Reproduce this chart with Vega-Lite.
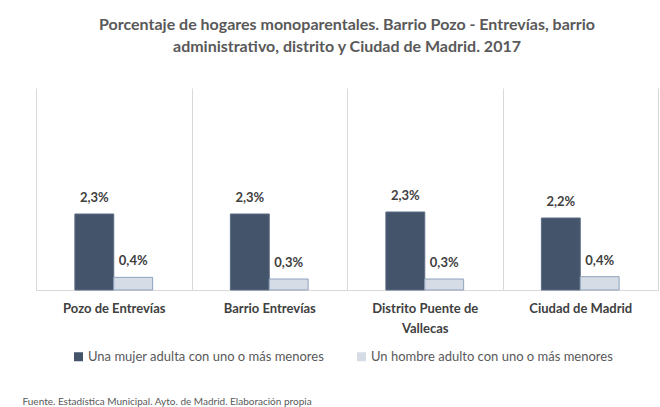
{
  "$schema": "https://vega.github.io/schema/vega-lite/v6.json",
  "autosize": "none",
  "width": 622,
  "height": 202,
  "padding": {"left": 36, "top": 88, "right": 2, "bottom": 117},
  "background": "white",
  "title": {
    "text": ["Porcentaje de hogares monoparentales. Barrio Pozo - Entrevías, barrio", "administrativo, distrito y Ciudad de Madrid. 2017"],
    "anchor": "middle",
    "font": "Lato",
    "fontSize": 16,
    "fontWeight": "bold",
    "color": "#595959",
    "lineHeight": 22,
    "offset": 33
  },
  "data": {
    "values": [
      {"zona": "Pozo de Entrevías", "serie": "Una mujer adulta con uno o más menores", "valor": 0.0228},
      {"zona": "Pozo de Entrevías", "serie": "Un hombre adulto con uno o más menores", "valor": 0.0038},
      {"zona": "Barrio Entrevías", "serie": "Una mujer adulta con uno o más menores", "valor": 0.0228},
      {"zona": "Barrio Entrevías", "serie": "Un hombre adulto con uno o más menores", "valor": 0.0033},
      {"zona": "Distrito Puente de Vallecas", "serie": "Una mujer adulta con uno o más menores", "valor": 0.0234},
      {"zona": "Distrito Puente de Vallecas", "serie": "Un hombre adulto con uno o más menores", "valor": 0.0033},
      {"zona": "Ciudad de Madrid", "serie": "Una mujer adulta con uno o más menores", "valor": 0.0216},
      {"zona": "Ciudad de Madrid", "serie": "Un hombre adulto con uno o más menores", "valor": 0.0040}
    ]
  },
  "encoding": {
    "x": {
      "field": "zona",
      "type": "nominal",
      "sort": ["Pozo de Entrevías", "Barrio Entrevías", "Distrito Puente de Vallecas", "Ciudad de Madrid"],
      "scale": {"paddingInner": 0, "paddingOuter": 0},
      "axis": {
        "title": "Fuente. Estadística Municipal. Ayto. de Madrid. Elaboración propia",
        "titleFont": "Lato",
        "titleFontSize": 10,
        "titleFontWeight": "normal",
        "titleColor": "#595959",
        "titleAnchor": "start",
        "titleAlign": "left",
        "titleBaseline": "alphabetic",
        "titleX": -14,
        "titleY": 114,
        "labelAngle": 0,
        "labelFont": "Lato",
        "labelFontSize": 13,
        "labelFontWeight": "bold",
        "labelColor": "#404040",
        "labelPadding": 12,
        "labelBaseline": "top",
        "labelLineHeight": 20,
        "labelExpr": "datum.label == 'Distrito Puente de Vallecas' ? ['Distrito Puente de', 'Vallecas'] : datum.label",
        "ticks": false,
        "tickBand": "extent",
        "grid": true,
        "gridColor": "#D9D9D9",
        "gridWidth": 1,
        "domainColor": "#D9D9D9",
        "domainWidth": 1
      }
    },
    "xOffset": {
      "field": "serie",
      "type": "nominal",
      "sort": ["Una mujer adulta con uno o más menores", "Un hombre adulto con uno o más menores"],
      "scale": {"paddingInner": 0, "paddingOuter": 1.07}
    },
    "y": {
      "field": "valor",
      "type": "quantitative",
      "scale": {"domain": [0, 0.0606]},
      "axis": null
    }
  },
  "layer": [
    {
      "mark": {"type": "bar", "strokeWidth": 1},
      "encoding": {
        "color": {
          "field": "serie",
          "type": "nominal",
          "sort": ["Una mujer adulta con uno o más menores", "Un hombre adulto con uno o más menores"],
          "scale": {"range": ["#44546A", "#D6DCE5"]},
          "legend": {
            "title": null,
            "orient": "none",
            "direction": "horizontal",
            "legendX": 36,
            "legendY": 262,
            "padding": 0,
            "symbolType": "square",
            "symbolSize": 81,
            "symbolStrokeWidth": 1,
            "labelFont": "Lato",
            "labelFontSize": 13,
            "labelColor": "#595959",
            "labelOffset": 3,
            "columnPadding": 30,
            "labelLimit": 400
          }
        },
        "stroke": {
          "field": "serie",
          "type": "nominal",
          "sort": ["Una mujer adulta con uno o más menores", "Un hombre adulto con uno o más menores"],
          "scale": {"range": ["#5B6B84", "#8FA2BE"]},
          "legend": null
        }
      }
    },
    {
      "mark": {"type": "text", "baseline": "bottom", "dy": -9, "font": "Lato", "fontSize": 13, "fontWeight": "bold", "color": "#404040"},
      "encoding": {
        "text": {"field": "valor", "type": "quantitative", "format": ".1%"}
      }
    }
  ],
  "config": {
    "locale": {
      "number": {"decimal": ",", "thousands": ".", "grouping": [3], "currency": ["", " €"]}
    },
    "view": {"stroke": null}
  }
}
